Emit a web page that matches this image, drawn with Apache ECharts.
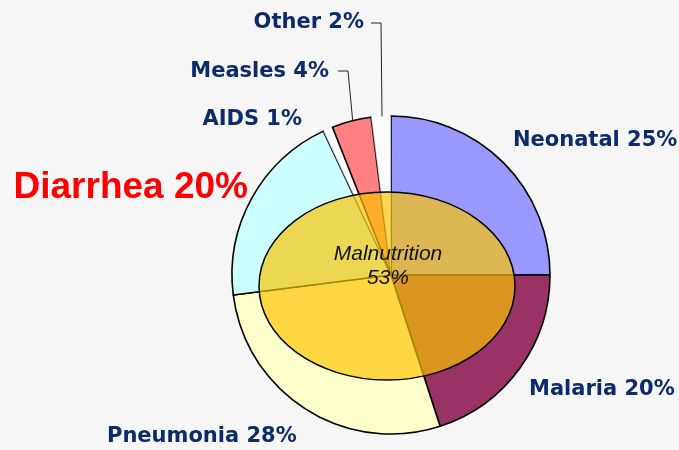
<!DOCTYPE html>
<html>
<head>
<meta charset="utf-8">
<script src="https://cdn.jsdelivr.net/npm/echarts@6/dist/echarts.min.js"></script>
<style>
  html, body { margin: 0; padding: 0; background: #f6f6f6; }
  #causes { width: 679px; height: 450px; }
</style>
</head>
<body>
<div id="causes"></div>
<script>
// causes of child deaths, clockwise from 12 o'clock
let causes = ['Neonatal', 'Malaria', 'Pneumonia', 'Diarrhea', 'AIDS', 'Measles', 'Other'];
let shares = [25, 20, 28, 20, 1, 4, 2];
let overlayName = 'Malnutrition';
let overlayShare = [53];

let sliceColors = ['#9999ff', '#993366', '#ffffcc', '#ccffff', 'rgba(255,255,255,0.7)', '#ff8080', 'rgba(255,255,255,0.7)'];
let noBorder = ['AIDS', 'Other'];

// where each label sits (x, y, align) and optional leader line
let labelSpots = [
    { x: 513, y: 141, align: 'left' },
    { x: 529, y: 390, align: 'left' },
    { x: 107, y: 437, align: 'left' },
    { x: 248, y: 188, align: 'right' },
    { x: 302, y: 120, align: 'right' },
    { x: 329, y: 72, align: 'right', line: [[353, 124], [348, 71], [338, 71]] },
    { x: 364, y: 23, align: 'right', line: [[382, 117], [381, 23], [371, 23]] }
];

let navy = '#0b2b6b';

let pieData = causes.map(function(name, i) {
    let item = {
        name: name,
        value: shares[i],
        itemStyle: {
            color: sliceColors[i],
            borderColor: '#000',
            borderWidth: noBorder.indexOf(name) >= 0 ? 0 : 1.6
        },
        labelLine: {
            show: !!labelSpots[i].line
        }
    };
    if (name === 'Diarrhea') {
        item.label = {
            color: '#ff0000',
            fontSize: 37,
            fontFamily: '"Liberation Sans", Arial, sans-serif'
        };
    }
    return item;
});

let causesChart = echarts.init(document.getElementById('causes'));
let option = {
    backgroundColor: '#f6f6f6',
    animation: false,

    series: [{
        name: 'Causes',
        type: 'pie',
        center: [391, 275],
        radius: 159,
        startAngle: 90,
        clockwise: true,
        avoidLabelOverlap: false,
        emphasis: { disabled: true },
        label: {
            show: true,
            position: 'outside',
            color: navy,
            fontSize: 21,
            fontWeight: 'bold',
            fontFamily: '"DejaVu Sans", sans-serif',
            formatter: function(params) {
                return params.name + ' ' + params.value + '%';
            }
        },
        labelLine: {
            lineStyle: {
                color: '#222',
                width: 1
            }
        },
        labelLayout: function(params) {
            let spot = labelSpots[params.dataIndex];
            let out = {
                x: spot.x,
                y: spot.y,
                align: spot.align,
                verticalAlign: 'middle'
            };
            if (spot.line) {
                out.labelLinePoints = spot.line;
            }
            return out;
        },
        data: pieData
    }],

    // Malnutrition overlay
    graphic: [{
        type: 'ellipse',
        z: 100,
        shape: { cx: 387, cy: 286, rx: 128, ry: 94 },
        style: {
            fill: 'rgba(250, 196, 0, 0.68)',
            stroke: '#000',
            lineWidth: 1.5
        }
    }, {
        type: 'text',
        z: 101,
        x: 388,
        y: 266,
        style: {
            text: overlayName + '\n' + overlayShare[0] + '%',
            fill: '#111',
            font: 'italic 21px "Liberation Sans", Arial, sans-serif',
            align: 'center',
            verticalAlign: 'middle',
            lineHeight: 24
        }
    }]
};

causesChart.setOption(option);

window.addEventListener('resize', function() {
    causesChart.resize();
});
</script>
</body>
</html>
